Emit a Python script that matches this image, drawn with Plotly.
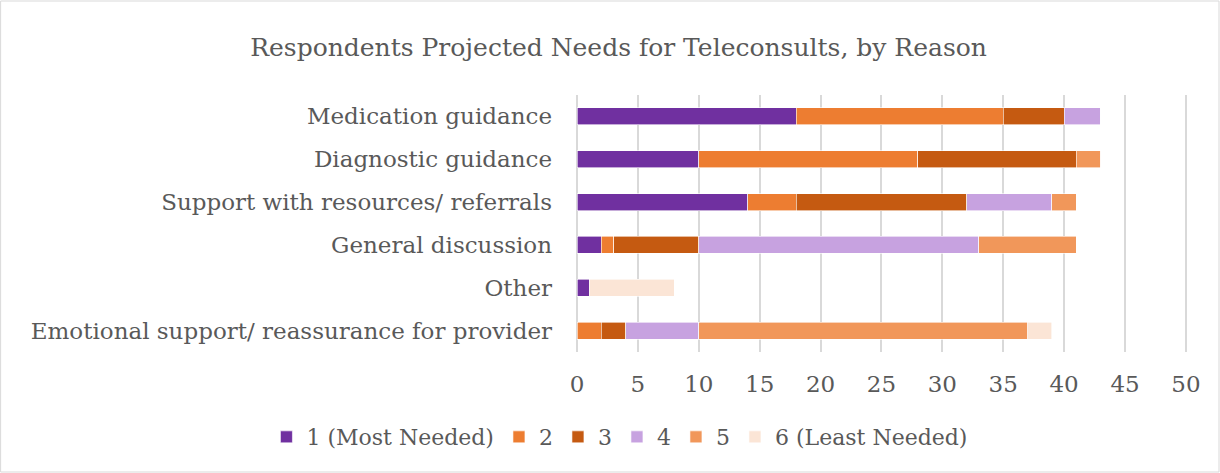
import plotly.graph_objects as go

reasons = [
    "Medication guidance",
    "Diagnostic guidance",
    "Support with resources/ referrals",
    "General discussion",
    "Other",
    "Emotional support/ reassurance for provider",
]
rank_names = ["1 (Most Needed)", "2", "3", "4", "5", "6 (Least Needed)"]
rank1 = [18, 10, 14, 2, 1, 0]
rank2 = [17, 18, 4, 1, 0, 2]
rank3 = [5, 13, 14, 7, 0, 2]
rank4 = [3, 0, 7, 23, 0, 6]
rank5 = [0, 2, 2, 8, 0, 27]
rank6 = [0, 0, 0, 0, 7, 2]
x_ticks = [0, 5, 10, 15, 20, 25, 30, 35, 40, 45, 50]

colors = ["#7030A0", "#ED7D31", "#C55A11", "#C7A2E0", "#F1975A", "#FBE5D6"]
FONT = "Georgia, 'DejaVu Serif', serif"

fig = go.Figure()
for name, vals, col in zip(rank_names, [rank1, rank2, rank3, rank4, rank5, rank6], colors):
    fig.add_trace(go.Bar(
        y=reasons,
        x=vals,
        name=name,
        orientation="h",
        marker=dict(color=col, line=dict(color="white", width=0.6)),
    ))

# plot area: x from 577 to 1192 px (range 0..50.5), y from 95 to 352 px
fig.update_layout(
    barmode="stack",
    bargap=0.6,
    width=1220,
    height=473,
    paper_bgcolor="white",
    plot_bgcolor="white",
    margin=dict(l=577, r=28, t=95, b=121, autoexpand=False),
    font=dict(family=FONT, color="#595959", size=23),
    title=dict(
        text="Respondents Projected Needs for Teleconsults, by Reason",
        x=0.507, xanchor="center", y=0.90, yanchor="middle",
        font=dict(size=25, color="#595959"),
    ),
    legend=dict(
        orientation="h", x=-0.505, xanchor="left", y=-0.331, yanchor="middle",
        font=dict(size=22), traceorder="normal", itemwidth=30,
    ),
    showlegend=True,
)
fig.update_xaxes(
    range=[0, 50.5], tickvals=x_ticks, showgrid=True, gridcolor="#D9D9D9", gridwidth=1.5,
    zeroline=True, zerolinecolor="#D9D9D9", zerolinewidth=1.5, showline=False,
    ticklabelstandoff=16, automargin=False,
)
fig.update_yaxes(
    categoryorder="array", categoryarray=reasons, autorange="reversed",
    showgrid=False, ticklabelstandoff=24, automargin=False,
)
fig.add_shape(type="rect", xref="paper", yref="paper",
              x0=-577 / 615 + 0.001, x1=1 + 27 / 615, y0=-120 / 257, y1=1 + 94 / 257,
              line=dict(color="#D9D9D9", width=1))
fig.write_html("out.html", config={"displayModeBar": False},
               post_script="document.body.style.margin='0';")
